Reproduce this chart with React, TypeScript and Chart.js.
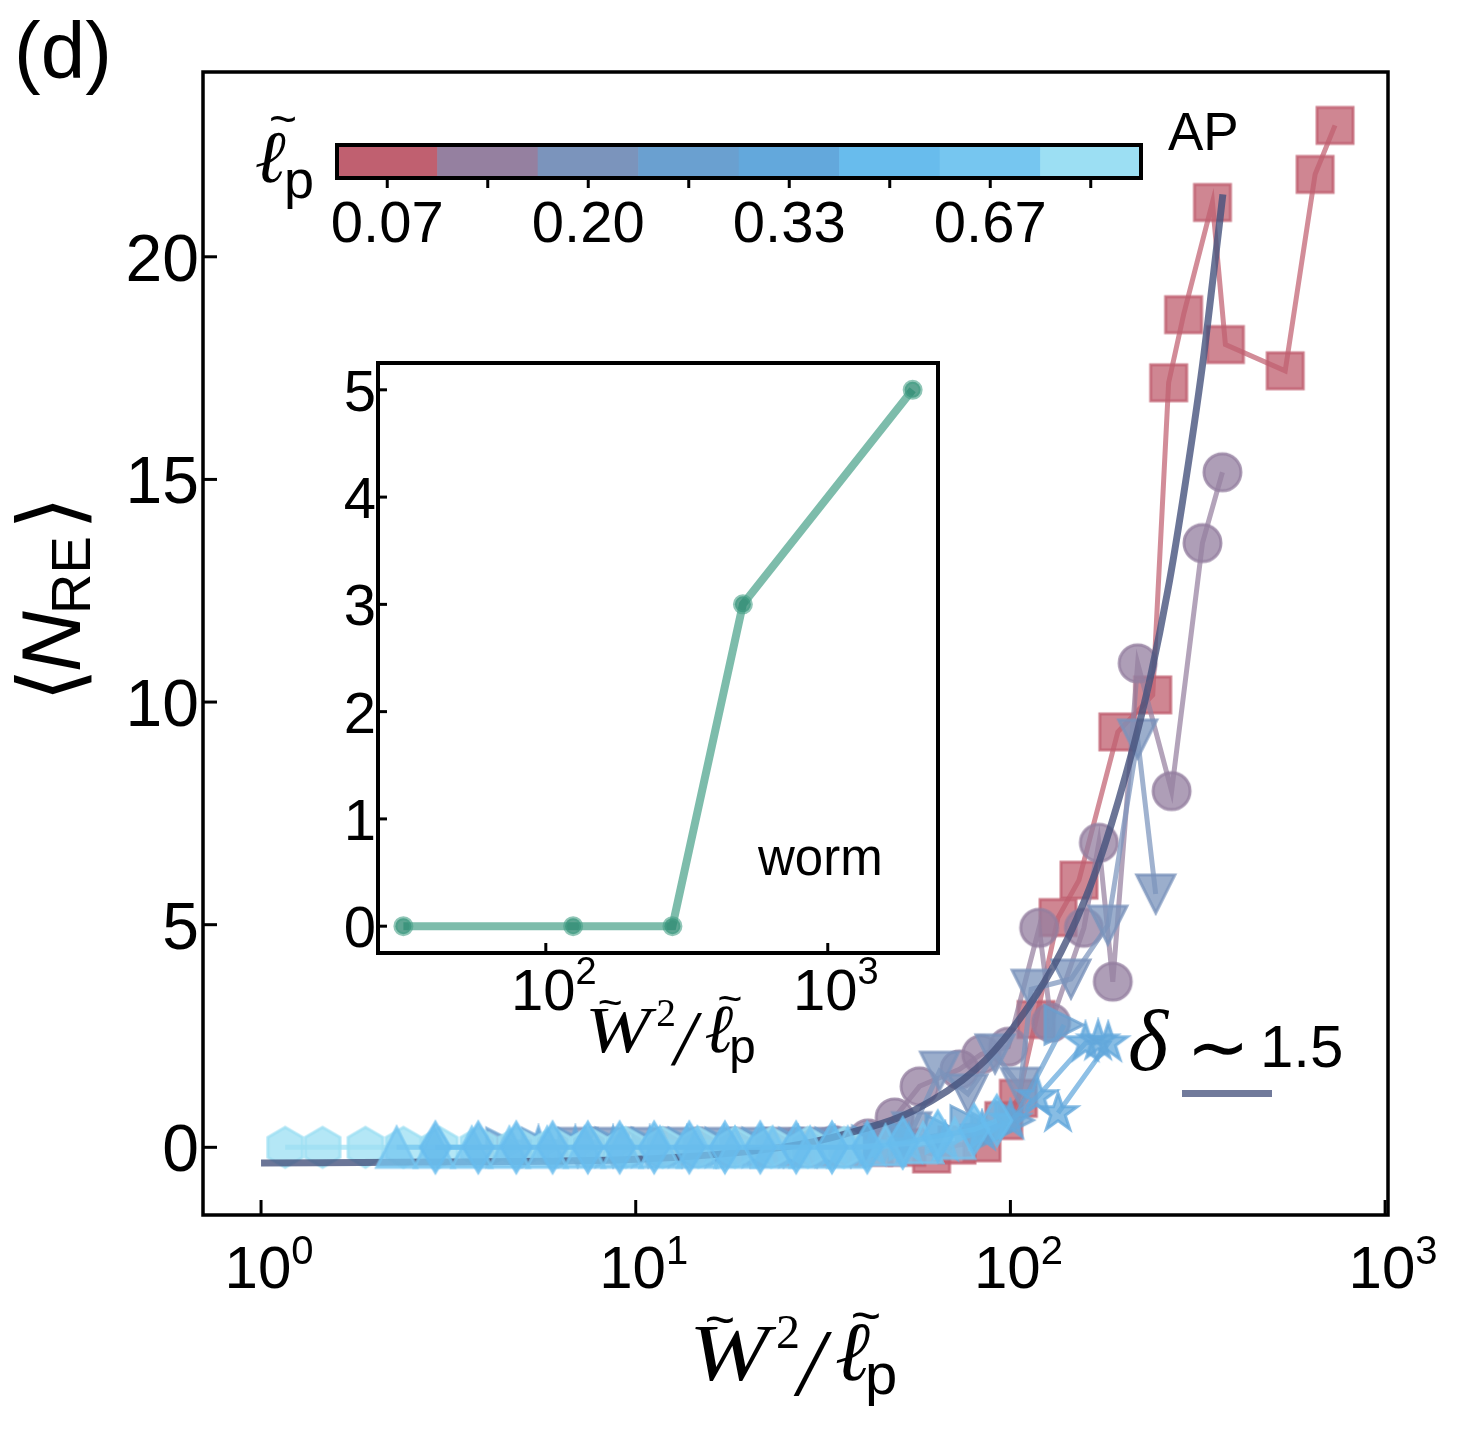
import React, { useEffect, useRef } from 'react';
import { Chart, registerables } from 'chart.js';

Chart.register(...registerables);

// ---------------- data ----------------
// persistence-length classes shown in the colour bar
const lpValues = [0.07, 0.13, 0.2, 0.27, 0.33, 0.5, 0.67, 0.8];
const lpTickLabels = ['0.07', '', '0.20', '', '0.33', '', '0.67', ''];

// series (x = W^2 / l_p , y = <N_RE>)
const sqX = [23.5, 28.8, 35.3, 43.2, 52.9, 61.6, 72, 84, 96, 105, 117.1, 134, 152.4, 193.5, 239.8, 264.4, 289.9, 346.1, 374.8, 541.2, 650.4, 735.1];
const sqY = [0, 0, 0, 0, 0, -0.15, 0.05, 0.1, 0.6, 1.1, 2.87, 5.16, 6.0, 9.33, 10.16, 17.17, 18.7, 21.22, 18.03, 17.44, 21.85, 22.95];

const circX = [11.8, 14.6, 18, 22.2, 27.4, 33.8, 41.7, 49.1, 57.2, 73.1, 83.6, 98.7, 119.3, 128.4, 157.1, 172.2, 187.6, 218.6, 269.3, 325.5, 368];
const circY = [0, 0, 0, 0, 0, 0.05, 0.2, 0.67, 1.37, 1.75, 2.09, 2.26, 4.93, 2.8, 4.93, 6.84, 3.72, 10.87, 8.0, 13.57, 15.16];

const triDownX = [7.0, 8.7, 10.8, 13.3, 16.4, 20.2, 24.8, 30.5, 37.5, 46, 54.5, 64.7, 77, 91, 106.3, 113.6, 145.1, 182, 218.6, 244.2];
const triDownY = [0, 0, 0, 0, 0, 0, 0, 0, 0, 0.1, 0.35, 1.71, 1.2, 2.1, 1.35, 3.55, 3.78, 4.99, 9.17, 5.69];

const triRightX = [4.5, 5.6, 7.0, 8.8, 11, 13.8, 17.3, 21.7, 27.2, 34, 42.6, 53.4, 66.9, 78, 88.5, 102.4, 139];
const triRightY = [0, 0, 0, 0, 0, 0, 0, 0, 0, 0, 0.05, 0.15, 0.3, 0.5, 0.35, 0.61, 2.75];

const starX = [5.5, 6.9, 8.7, 10.9, 13.7, 17.2, 21.6, 27.1, 34, 42.7, 53.6, 67, 84, 100, 118, 158.6, 171.5, 182.4, 134];
const starY = [0, 0, 0, 0, 0, 0, 0, 0, 0, 0, 0.05, 0.1, 0.35, 0.6, 1.13, 2.34, 2.38, 2.34, 0.77];

const thinDiaX = [2.92, 3.8, 4.8, 6.0, 7.45, 9.06, 11.2, 13.9, 17.3, 21.5, 26.8, 33.4, 41.5, 51.6, 64, 80, 92];
const thinDiaY = [0, 0, 0, 0, 0, 0, 0, 0, 0, 0, 0, 0, 0, 0.1, 0.25, 0.4, 0.6];

const triUpX = [2.3, 2.9, 3.65, 4.6, 5.8, 7.3, 9.2, 11.6, 14.6, 18.4, 23.2, 29.2, 36.8, 46.4, 58.4, 71];
const triUpY = [0, 0, 0, 0, 0, 0, 0, 0, 0, 0, 0, 0, 0, 0.05, 0.1, 0.2];

const hexX = [1.16, 1.46, 1.9, 2.4, 3.0, 3.8, 4.8, 6.0, 7.5, 9.4, 11.8, 14.7, 18.4, 23, 28.8, 36];
const hexY = [0, 0, 0, 0, 0, 0, 0, 0, 0, 0, 0, 0, 0, 0, 0, 0];

// fitted curve (delta ~ 1.5)
const fitX = [1, 3, 10, 25, 36, 55, 81, 102, 130, 157, 178, 213, 237, 263, 288, 326, 346, 369];
const fitY = [-0.35, -0.33, -0.27, 0.01, 0.29, 0.82, 1.76, 2.7, 4.05, 5.5, 6.75, 9.0, 10.6, 12.5, 14.5, 17.6, 19.4, 21.4];

// inset (worm)
const insetX = [31.25, 125, 281.25, 500, 2000];
const insetY = [0, 0, 0, 3, 5];

// ticks
const mainXTicks = [1, 10, 100, 1000];
const mainXExp = ['0', '1', '2', '3'];
const mainYTicks = [0, 5, 10, 15, 20];
const insetXTicks = [100, 1000];
const insetXExp = ['2', '3'];
const insetYTicks = [0, 1, 2, 3, 4, 5];

// ---------------- styles ----------------
const lpColors = ['#c06070', '#9580a0', '#7b94bc', '#6aa0d0', '#63a8dc', '#68bced', '#76c6f0', '#9cdff3'];
const SANS = '"Liberation Sans", Arial, Helvetica, sans-serif';
const SERIF = '"Liberation Serif", "Times New Roman", "DejaVu Serif", serif';
const FIT_COLOR = 'rgba(70,82,125,0.8)';

function rgba(hex: string, a: number) {
  const n = parseInt(hex.slice(1), 16);
  return `rgba(${(n >> 16) & 255},${(n >> 8) & 255},${n & 255},${a})`;
}

function makeMarker(shape: string, hex: string, s: number): HTMLCanvasElement {
  const pad = 4;
  const w = Math.ceil(s + pad * 2);
  const c = document.createElement('canvas');
  c.width = w;
  c.height = w;
  const ctx = c.getContext('2d') as CanvasRenderingContext2D;
  ctx.translate(w / 2, w / 2);
  const h = s / 2;
  ctx.beginPath();
  if (shape === 'square') {
    ctx.rect(-h, -h, s, s);
  } else if (shape === 'circle') {
    ctx.arc(0, 0, h, 0, Math.PI * 2);
  } else if (shape === 'triDown') {
    ctx.moveTo(-h, -h); ctx.lineTo(h, -h); ctx.lineTo(0, h); ctx.closePath();
  } else if (shape === 'triUp') {
    ctx.moveTo(0, -h); ctx.lineTo(h, h); ctx.lineTo(-h, h); ctx.closePath();
  } else if (shape === 'triRight') {
    ctx.moveTo(-h, -h); ctx.lineTo(h, 0); ctx.lineTo(-h, h); ctx.closePath();
  } else if (shape === 'star') {
    for (let i = 0; i < 10; i++) {
      const r = i % 2 === 0 ? h : h * 0.382;
      const a = -Math.PI / 2 + (i * Math.PI) / 5;
      if (i === 0) ctx.moveTo(r * Math.cos(a), r * Math.sin(a));
      else ctx.lineTo(r * Math.cos(a), r * Math.sin(a));
    }
    ctx.closePath();
  } else if (shape === 'thinDiamond') {
    ctx.moveTo(0, -h); ctx.lineTo(h * 0.6, 0); ctx.lineTo(0, h); ctx.lineTo(-h * 0.6, 0); ctx.closePath();
  } else if (shape === 'hexagon') {
    for (let i = 0; i < 6; i++) {
      const a = -Math.PI / 2 + (i * Math.PI) / 3;
      if (i === 0) ctx.moveTo(h * Math.cos(a), h * Math.sin(a));
      else ctx.lineTo(h * Math.cos(a), h * Math.sin(a));
    }
    ctx.closePath();
  }
  ctx.fillStyle = rgba(hex, 0.76);
  ctx.fill();
  ctx.lineWidth = 3;
  ctx.strokeStyle = rgba(hex, 0.8);
  ctx.stroke();
  return c;
}

function zip(xs: number[], ys: number[]) {
  return xs.map((x, i) => ({ x, y: ys[i] }));
}

function drawPow(ctx: CanvasRenderingContext2D, cx: number, baseY: number, exp: string, big: number, small: number, rise: number) {
  ctx.font = `${big}px ${SANS}`;
  const w1 = ctx.measureText('10').width;
  ctx.font = `${small}px ${SANS}`;
  const w2 = ctx.measureText(exp).width;
  const left = cx + 8 - (w1 + w2) / 2;
  ctx.textAlign = 'left';
  ctx.textBaseline = 'alphabetic';
  ctx.font = `${big}px ${SANS}`;
  ctx.fillText('10', left, baseY);
  ctx.font = `${small}px ${SANS}`;
  ctx.fillText(exp, left + w1, baseY - rise);
}

function line(ctx: CanvasRenderingContext2D, x1: number, y1: number, x2: number, y2: number) {
  ctx.beginPath();
  ctx.moveTo(x1, y1);
  ctx.lineTo(x2, y2);
  ctx.stroke();
}

const mainAxesPlugin = {
  id: 'mainAxes',
  afterDatasetsDraw(chart: any) {
    const { ctx, chartArea: a } = chart;
    const x = chart.scales.x;
    const y = chart.scales.y;
    ctx.save();
    ctx.strokeStyle = '#000';
    ctx.lineWidth = 3.5;
    ctx.strokeRect(a.left, a.top, a.right - a.left, a.bottom - a.top);
    ctx.lineWidth = 3;
    ctx.fillStyle = '#000';
    for (const v of mainYTicks) {
      const py = y.getPixelForValue(v);
      line(ctx, a.left, py, a.left + 14, py);
      ctx.font = `66px ${SANS}`;
      ctx.textAlign = 'right';
      ctx.textBaseline = 'alphabetic';
      ctx.fillText(String(v), a.left - 4, py + 24);
    }
    mainXTicks.forEach((v, i) => {
      const px = x.getPixelForValue(v);
      line(ctx, px, a.bottom, px, a.bottom - 15);
      drawPow(ctx, px, a.bottom + 73, mainXExp[i], 60, 40, 24);
    });
    // legend swatch for the fitted curve
    ctx.fillStyle = 'rgba(70,82,125,0.77)';
    ctx.fillRect(1182, 1090, 90, 7);
    ctx.restore();
  },
};

const insetAxesPlugin = {
  id: 'insetAxes',
  beforeDatasetsDraw(chart: any) {
    const { ctx, chartArea: a } = chart;
    ctx.save();
    ctx.fillStyle = '#ffffff';
    ctx.fillRect(a.left, a.top, a.right - a.left, a.bottom - a.top);
    ctx.restore();
  },
  afterDatasetsDraw(chart: any) {
    const { ctx, chartArea: a } = chart;
    const x = chart.scales.x;
    const y = chart.scales.y;
    ctx.save();
    ctx.strokeStyle = '#000';
    ctx.lineWidth = 4;
    ctx.strokeRect(a.left, a.top, a.right - a.left, a.bottom - a.top);
    ctx.lineWidth = 3;
    ctx.fillStyle = '#000';
    for (const v of insetYTicks) {
      const py = y.getPixelForValue(v);
      line(ctx, a.left, py, a.left + 9, py);
      ctx.font = `58px ${SANS}`;
      ctx.textAlign = 'right';
      ctx.textBaseline = 'alphabetic';
      ctx.fillText(String(v), a.left - 2, py + 21);
    }
    insetXTicks.forEach((v, i) => {
      const px = x.getPixelForValue(v);
      line(ctx, px, a.bottom, px, a.bottom - 10);
      drawPow(ctx, px, a.bottom + 57, insetXExp[i], 58, 38, 26);
    });
    ctx.restore();
  },
};

const colorbarPlugin = {
  id: 'cbAxes',
  afterDatasetsDraw(chart: any) {
    const { ctx, chartArea: a } = chart;
    const x = chart.scales.x;
    ctx.save();
    ctx.strokeStyle = '#000';
    ctx.lineWidth = 4;
    ctx.strokeRect(a.left, a.top, a.right - a.left, a.bottom - a.top);
    ctx.lineWidth = 3;
    ctx.fillStyle = '#000';
    lpValues.forEach((_, i) => {
      const px = x.getPixelForValue(i);
      line(ctx, px, a.bottom + 2, px, a.bottom + 10);
      if (lpTickLabels[i]) {
        ctx.font = `58px ${SANS}`;
        ctx.textAlign = 'center';
        ctx.textBaseline = 'alphabetic';
        ctx.fillText(lpTickLabels[i], px, a.bottom + 64);
      }
    });
    ctx.restore();
  },
};

function TitleW() {
  return (
    <>
      <text transform="translate(-5,0) scale(1.2,1)" x={0} y={0} fontFamily={SERIF} fontStyle="italic" fontSize={80}>W</text>
      <text x={26} y={-43} fontFamily={SANS} fontSize={52} textAnchor="middle">~</text>
      <text x={82} y={-32} fontFamily={SERIF} fontSize={48}>2</text>
      <text x={104} y={15} fontFamily={SERIF} fontStyle="italic" fontSize={96}>/</text>
      <text x={141} y={0} fontFamily={SERIF} fontStyle="italic" fontSize={84}>ℓ</text>
      <text x={172} y={-47} fontFamily={SANS} fontSize={52} textAnchor="middle">~</text>
      <text x={171} y={14} fontFamily={SANS} fontSize={58}>p</text>
    </>
  );
}

export default function App() {
  const mainRef = useRef<HTMLCanvasElement>(null);
  const insetRef = useRef<HTMLCanvasElement>(null);
  const cbRef = useRef<HTMLCanvasElement>(null);

  useEffect(() => {
    const charts: Chart[] = [];

    // first entry is drawn on top
    const series = [
      { xs: thinDiaX, ys: thinDiaY, ci: 5, shape: 'thinDiamond', size: 50 },
      { xs: triUpX, ys: triUpY, ci: 6, shape: 'triUp', size: 40 },
      null,
      { xs: hexX, ys: hexY, ci: 7, shape: 'hexagon', size: 40 },
      { xs: starX, ys: starY, ci: 4, shape: 'star', size: 40 },
      { xs: triRightX, ys: triRightY, ci: 3, shape: 'triRight', size: 38 },
      { xs: triDownX, ys: triDownY, ci: 2, shape: 'triDown', size: 38 },
      { xs: circX, ys: circY, ci: 1, shape: 'circle', size: 37 },
      { xs: sqX, ys: sqY, ci: 0, shape: 'square', size: 36 },
    ];

    const datasets: any[] = series.map((s) => {
      if (!s) {
        return {
          data: zip(fitX, fitY),
          showLine: true,
          borderColor: FIT_COLOR,
          borderWidth: 7,
          pointRadius: 0,
          pointHoverRadius: 0,
          cubicInterpolationMode: 'monotone',
          clip: false,
        };
      }
      const col = lpColors[s.ci];
      return {
        data: zip(s.xs, s.ys),
        showLine: true,
        borderColor: rgba(col, 0.72),
        borderWidth: 5,
        pointStyle: makeMarker(s.shape, col, s.size),
        pointRadius: s.size / 2,
        pointHoverRadius: s.size / 2,
        tension: 0,
        clip: false,
      };
    });

    if (mainRef.current) {
      charts.push(
        new Chart(mainRef.current, {
          type: 'scatter',
          data: { datasets },
          options: {
            responsive: false,
            animation: false,
            devicePixelRatio: 1,
            events: [],
            layout: { padding: { left: 203, top: 72, right: 1482 - 1388, bottom: 1436 - 1215 } },
            plugins: { legend: { display: false }, tooltip: { enabled: false } },
            scales: {
              x: { type: 'logarithmic', min: 0.719, max: 1018, display: false },
              y: { type: 'linear', min: -1.52, max: 24.15, display: false },
            },
          } as any,
          plugins: [mainAxesPlugin],
        })
      );
    }

    if (insetRef.current) {
      charts.push(
        new Chart(insetRef.current, {
          type: 'scatter',
          data: {
            datasets: [
              {
                data: zip(insetX, insetY),
                showLine: true,
                borderColor: 'rgba(70,160,135,0.7)',
                borderWidth: 8,
                pointRadius: 8,
                pointHoverRadius: 8,
                pointBackgroundColor: 'rgba(40,135,110,0.75)',
                pointBorderColor: 'rgba(70,160,135,0.6)',
                pointBorderWidth: 4,
                clip: false,
              } as any,
            ],
          },
          options: {
            responsive: false,
            animation: false,
            devicePixelRatio: 1,
            events: [],
            layout: { padding: { left: 78, top: 33, right: 42, bottom: 157 } },
            plugins: { legend: { display: false }, tooltip: { enabled: false } },
            scales: {
              x: { type: 'logarithmic', min: 25.4, max: 2460, display: false },
              y: { type: 'linear', min: -0.25, max: 5.25, display: false },
            },
          } as any,
          plugins: [insetAxesPlugin],
        })
      );
    }

    if (cbRef.current) {
      charts.push(
        new Chart(cbRef.current, {
          type: 'bar',
          data: {
            labels: lpValues.map((v) => v.toFixed(2)),
            datasets: [
              {
                data: lpValues.map(() => 1),
                backgroundColor: lpColors,
                borderWidth: 0,
                barPercentage: 1,
                categoryPercentage: 1,
              },
            ],
          },
          options: {
            responsive: false,
            animation: false,
            devicePixelRatio: 1,
            events: [],
            layout: { padding: { left: 37, top: 45, right: 39, bottom: 82 } },
            plugins: { legend: { display: false }, tooltip: { enabled: false } },
            scales: {
              x: { type: 'category', display: false, offset: true },
              y: { min: 0, max: 1, display: false },
            },
          } as any,
          plugins: [colorbarPlugin],
        })
      );
    }

    return () => charts.forEach((c) => c.destroy());
  }, []);

  return (
    <div style={{ position: 'absolute', left: 0, top: 0, width: 1482, height: 1436, overflow: 'hidden', background: '#fff' }}>
      <canvas ref={mainRef} width={1482} height={1436} style={{ position: 'absolute', left: 0, top: 0, width: 1482, height: 1436 }} />
      <canvas ref={insetRef} width={680} height={780} style={{ position: 'absolute', left: 300, top: 330, width: 680, height: 780 }} />
      <canvas ref={cbRef} width={880} height={160} style={{ position: 'absolute', left: 300, top: 100, width: 880, height: 160 }} />
      <svg width={1482} height={1436} style={{ position: 'absolute', left: 0, top: 0, pointerEvents: 'none' }}>
        <text x={14} y={78} fontFamily={SANS} fontSize={80}>(d)</text>
        <text x={1168} y={150} fontFamily={SANS} fontSize={53}>AP</text>
        <text x={758} y={875} fontFamily={SANS} fontSize={51}>worm</text>

        {/* colour-bar label */}
        <text x={255} y={182} fontFamily={SERIF} fontStyle="italic" fontSize={74}>ℓ</text>
        <text x={283} y={135} fontFamily={SANS} fontSize={48} textAnchor="middle">~</text>
        <text x={284} y={198} fontFamily={SANS} fontSize={54}>p</text>

        {/* exponent annotation */}
        <text x={1128} y={1070} fontFamily={SERIF} fontStyle="italic" fontSize={86}>δ</text>
        <text x={1218} y={1073} fontFamily={'"DejaVu Sans", sans-serif'} fontSize={76} textAnchor="middle">∼</text>
        <text x={1260} y={1067} fontFamily={SANS} fontSize={60}>1.5</text>

        {/* x-axis titles */}
        <g transform="translate(694,1380)">
          <TitleW />
        </g>
        <g transform="translate(589,1052) scale(0.82)">
          <TitleW />
        </g>

        {/* y-axis title */}
        <g transform="translate(80,700) rotate(-90)">
          <text x={-2} y={0} fontFamily={'"DejaVu Sans", sans-serif'} fontSize={87}>⟨</text>
          <text x={28} y={0} fontFamily={SANS} fontStyle="italic" fontSize={84}>N</text>
          <text x={86} y={10} fontFamily={SANS} fontSize={56}>RE</text>
          <text x={170} y={0} fontFamily={'"DejaVu Sans", sans-serif'} fontSize={87}>⟩</text>
        </g>
      </svg>
    </div>
  );
}
